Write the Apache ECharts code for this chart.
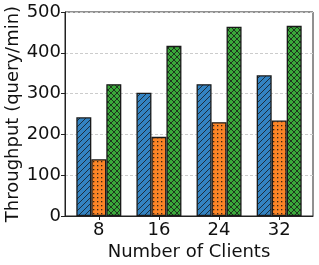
<!DOCTYPE html>
<html><head><meta charset="utf-8">
<script src="https://cdn.jsdelivr.net/npm/echarts@6/dist/echarts.min.js"></script>
<style>html,body{margin:0;padding:0;background:#fff}#c{width:319px;height:265px}</style>
</head><body><div id="c"></div>
<script>
const categories = ['8', '16', '24', '32'];
const seriesA = [242, 302, 323, 345];
const seriesB = [139, 194, 230, 234];
const seriesC = [323, 417, 464, 466];
const yTicks = [0, 100, 200, 300, 400, 500];

function hatch(fill, kind) {
  const c = document.createElement('canvas');
  const s = kind === 'dots' ? 4 : 6;
  c.width = s; c.height = s;
  const g = c.getContext('2d');
  g.fillStyle = fill; g.fillRect(0, 0, s, s);
  g.strokeStyle = 'rgba(20,20,20,0.85)'; g.fillStyle = 'rgba(20,20,20,0.85)';
  g.lineWidth = 0.9;
  if (kind === 'diag' || kind === 'cross') {
    for (const o of [-s, 0, s]) { g.beginPath(); g.moveTo(o, s); g.lineTo(o + s, 0); g.stroke(); }
  }
  if (kind === 'cross') {
    for (const o of [-s, 0, s]) { g.beginPath(); g.moveTo(o, 0); g.lineTo(o + s, s); g.stroke(); }
  }
  if (kind === 'dots') { g.fillRect(1, 1, 1.3, 1.3); }
  return c;
}

const chart = echarts.init(document.getElementById('c'), null, {renderer: 'canvas'});
const font = 'DejaVu Sans';
const idx = categories.map((_, i) => i);
function bar(name, data, fill, kind) {
  return {
    name, type: 'bar', data: data.map((v, i) => [i, v]), barWidth: 15, barGap: '0%',
    itemStyle: { color: { image: hatch(fill, kind), repeat: 'repeat' }, borderColor: '#1a1a1a', borderWidth: 1.3 }
  };
}
chart.setOption({
  animation: false,
  grid: { left: 65, right: 6, top: 12, bottom: 49, containLabel: false, outerBoundsMode: 'none',
    show: true, borderColor: '#222', borderWidth: 1, backgroundColor: 'transparent' },
  xAxis: {
    type: 'value', min: -0.5625, max: categories.length - 0.4375,
    name: 'Number of Clients', nameLocation: 'middle', nameGap: 27, nameMoveOverlap: false,
    nameTextStyle: { fontFamily: font, fontSize: 18, color: '#111' },
    axisLine: { show: true, onZero: false, lineStyle: { color: '#222' } },
    axisTick: { show: true, customValues: idx, length: 4, lineStyle: { color: '#222' } },
    axisLabel: { customValues: idx, formatter: v => categories[Math.round(v)], fontFamily: font, fontSize: 18, color: '#111', margin: 5 },
    splitLine: { show: false }
  },
  yAxis: {
    type: 'value', min: yTicks[0], max: yTicks[yTicks.length - 1], interval: 100,
    name: 'Throughput (query/min)', nameLocation: 'middle', nameGap: 43, nameMoveOverlap: false,
    nameTextStyle: { fontFamily: font, fontSize: 18, color: '#111' },
    axisLine: { show: true, onZero: false, lineStyle: { color: '#222' } },
    axisTick: { show: true, length: 4, lineStyle: { color: '#222' } },
    axisLabel: { fontFamily: font, fontSize: 18, color: '#111', margin: 4 },
    splitLine: { show: true, lineStyle: { type: [3, 2], color: '#cccccc', width: 1 } }
  },
  series: [
    bar('A', seriesA, '#3383c2', 'diag'),
    bar('B', seriesB, '#fb8426', 'dots'),
    bar('C', seriesC, '#3aa93a', 'cross')
  ]
});
</script></body></html>
